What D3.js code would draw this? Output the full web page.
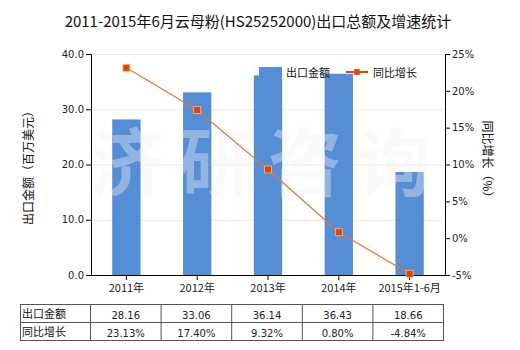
<!DOCTYPE html>
<html><head><meta charset="utf-8">
<script src="https://cdn.jsdelivr.net/npm/d3@7"></script>
<style>body{margin:0;background:#fff}</style>
</head><body>
<svg id="c" width="520" height="350"></svg>
<script>
const categories = ["2011年","2012年","2013年","2014年","2015年1-6月"];
const exportValues = [28.16, 33.06, 36.14, 36.43, 18.66];
const growthValues = [23.13, 17.40, 9.32, 0.80, -4.84];
const exportLabels = ["28.16","33.06","36.14","36.43","18.66"];
const growthLabels = ["23.13%","17.40%","9.32%","0.80%","-4.84%"];
const leftTicks = [0,10,20,30,40];
const rightTicks = [-5,0,5,10,15,20,25];

const svg = d3.select("#c");
const cjk = "'Noto Sans CJK SC','Microsoft YaHei',sans-serif";
const num = "'DejaVu Sans',Tahoma,sans-serif";
const L=91, R=445, T=54, B=275;

svg.append("text").attr("x",258).attr("y",27).attr("text-anchor","middle")
  .style("font-family",cjk).style("font-size","15px").attr("fill","#111")
  .text("2011-2015年6月云母粉(HS25252000)出口总额及增速统计");

const x = d3.scaleBand().domain(categories).range([L,R]).paddingInner(0.6).paddingOuter(0.3);
const y = d3.scaleLinear().domain([0,40]).range([B,T]);
const y2 = d3.scaleLinear().domain([-5,25]).range([B,T]);

// gridlines
svg.append("g").selectAll("line").data(leftTicks.slice(1)).join("line")
  .attr("x1",L).attr("x2",R).attr("y1",d=>y(d)+0.5).attr("y2",d=>y(d)+0.5)
  .attr("stroke","#ebeae0").attr("stroke-width",1);

// bars
svg.append("g").selectAll("rect").data(exportValues).join("rect")
  .attr("x",(d,i)=>x(categories[i])).attr("width",x.bandwidth())
  .attr("y",d=>y(d)).attr("height",d=>B-y(d)).attr("fill","#568ed5");

// watermark
svg.append("text").attr("x",90).attr("y",190)
  .style("font-family",cjk).style("font-size","74px").style("font-weight","bold")
  .style("letter-spacing","15px")
  .attr("fill","#f2f2f2").attr("fill-opacity",0.38).text("济研咨询");

// axes
const gl = svg.append("g").attr("transform",`translate(${L},0)`)
  .call(d3.axisLeft(y).tickValues(leftTicks).tickFormat(d3.format(".1f")).tickSize(5).tickPadding(2));
const gr = svg.append("g").attr("transform",`translate(${R},0)`)
  .call(d3.axisRight(y2).tickValues(rightTicks).tickFormat(d=>d+"%").tickSize(5).tickPadding(2));
const gb = svg.append("g").attr("transform",`translate(0,${B})`)
  .call(d3.axisBottom(x).tickSize(5).tickPadding(4).tickSizeOuter(0));
[gl,gr,gb].forEach(g=>{
  g.select(".domain").attr("stroke","#000");
  g.selectAll(".tick line").attr("stroke","#000");
  g.selectAll("text").attr("fill","#222").style("font-family",num).style("font-size","10px");
});
gb.selectAll("text").style("font-family",cjk).style("font-size","11px");

// line
const line = d3.line().x((d,i)=>x(categories[i])+x.bandwidth()/2).y(d=>y2(d));
svg.append("path").datum(growthValues).attr("d",line).attr("fill","none")
  .attr("stroke","#e7742c").attr("stroke-width",1.2);
svg.append("g").selectAll("rect").data(growthValues).join("rect")
  .attr("x",(d,i)=>x(categories[i])+x.bandwidth()/2-3.5).attr("y",d=>y2(d)-3.5)
  .attr("width",7).attr("height",7).attr("fill","#e1420c").attr("stroke","#f7c27a").attr("stroke-width",0.8);

// legend
const lg = svg.append("g");
lg.append("rect").attr("x",259).attr("y",67).attr("width",23).attr("height",14).attr("fill","#568ed5");
lg.append("text").attr("x",286).attr("y",77).style("font-family",cjk).style("font-size","11px").attr("fill","#111").text("出口金额");
lg.append("line").attr("x1",346).attr("x2",368).attr("y1",72).attr("y2",72).attr("stroke","#e1420c").attr("stroke-width",2);
lg.append("rect").attr("x",354).attr("y",69).attr("width",6).attr("height",6).attr("fill","#e1420c").attr("stroke","#f7c27a").attr("stroke-width",0.6);
lg.append("text").attr("x",373).attr("y",77).style("font-family",cjk).style("font-size","11px").attr("fill","#111").text("同比增长");

// axis titles
svg.append("text").attr("transform","translate(33,165) rotate(-90)").attr("text-anchor","middle")
  .style("font-family",cjk).style("font-size","12px").attr("fill","#111").text("出口金额（百万美元）");
svg.append("text").attr("transform","translate(483,162) rotate(90)").attr("text-anchor","middle")
  .style("font-family",cjk).style("font-size","12px").attr("fill","#111").text("同比增长（%）");

// table
const tx0=20.5, tx1=90.5, ty=[304.5,322.5,340.5];
const cw=(443.5-tx1)/categories.length;
const tg = svg.append("g");
tg.append("rect").attr("x",tx0).attr("y",ty[0]).attr("width",443.5-tx0).attr("height",ty[2]-ty[0])
  .attr("fill","none").attr("stroke","#555");
tg.append("line").attr("x1",tx0).attr("x2",443.5).attr("y1",ty[1]).attr("y2",ty[1]).attr("stroke","#555");
tg.selectAll("line.v").data(d3.range(categories.length)).join("line").attr("class","v")
  .attr("x1",i=>tx1+i*cw).attr("x2",i=>tx1+i*cw).attr("y1",ty[0]).attr("y2",ty[2]).attr("stroke","#555");
const rows=[["出口金额",exportLabels],["同比增长",growthLabels]];
rows.forEach((r,ri)=>{
  tg.append("text").attr("x",22).attr("y",ty[ri]+13).style("font-family",cjk).style("font-size","11px").attr("fill","#111").text(r[0]);
  tg.selectAll("text.v"+ri).data(r[1]).join("text").attr("class","v"+ri)
    .attr("x",(d,i)=>tx1+(i+0.5)*cw).attr("y",ty[ri]+14.5).attr("text-anchor","middle")
    .style("font-family",num).style("font-size","10px").attr("fill","#222").text(d=>d);
});
</script>
</body></html>
